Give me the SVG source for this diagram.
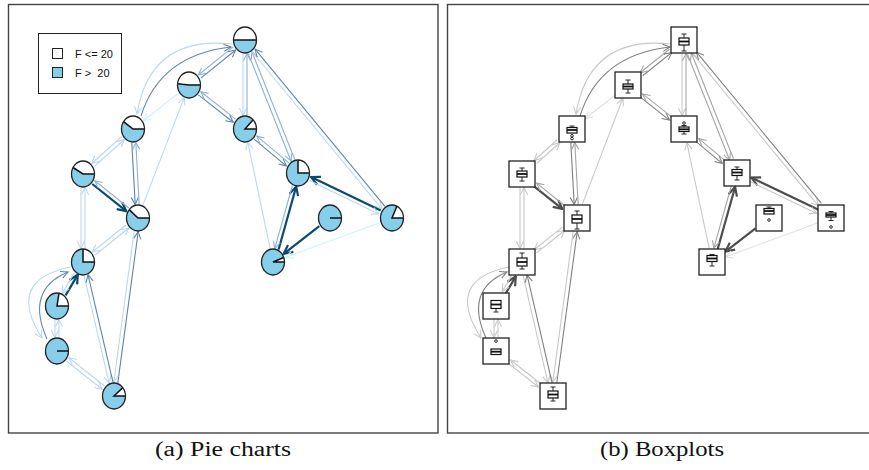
<svg xmlns="http://www.w3.org/2000/svg" width="869" height="470" viewBox="0 0 869 470">
<style>
.frame{fill:none;stroke:#444;stroke-width:1.4}
.cap{font-family:"Liberation Serif",serif;font-size:20px;fill:#111}
.leg{font-family:"Liberation Sans",Arial,sans-serif;font-size:11px;fill:#111;white-space:pre}
.conn line,.conn path{fill:none}
.dk{stroke:#0b4a70;stroke-width:2.2;marker-end:url(#a-dk)}
.st{stroke:#5e86ad;stroke-width:1.1;marker-end:url(#a-st)}
.ls{stroke:#8eb2d4;stroke-width:1.1;marker-end:url(#a-ls)}
.lt{stroke:#bcd8f0;stroke-width:1.1;marker-end:url(#a-lt)}
.cy{stroke:#cdf3fa;stroke-width:1.1;marker-end:url(#a-cy)}
.gdk{stroke:#4d4d4d;stroke-width:2.2;marker-end:url(#a-gdk)}
.gst{stroke:#808080;stroke-width:1.1;marker-end:url(#a-gst)}
.gls{stroke:#a6a6a6;stroke-width:1.1;marker-end:url(#a-gls)}
.glt{stroke:#c8c8c8;stroke-width:1.1;marker-end:url(#a-glt)}
.gcy{stroke:#e0e0e0;stroke-width:1.1;marker-end:url(#a-gcy)}
.pie .b{fill:#87ceeb;stroke:none}
.pie .w{fill:#fff;stroke:none}
.pie .r{fill:none;stroke:#111;stroke-width:1.5}
.pie .o{fill:none;stroke:#222;stroke-width:1.3}
.box .f{fill:#fff;stroke:#222;stroke-width:1.3}
.box .wh{fill:none;stroke:#111;stroke-width:0.9}
.box .bx{fill:#fff;stroke:#111;stroke-width:1.2}
.box .md{fill:none;stroke:#111;stroke-width:1.8}
.box .out{fill:none;stroke:#111;stroke-width:0.9}
</style>
<defs>
<marker id="a-dk" viewBox="0 0 10 10" refX="9" refY="5" markerWidth="11" markerHeight="11" orient="auto" markerUnits="userSpaceOnUse"><path d="M1,1 L9,5 L1,9" fill="none" stroke="#0b4a70" stroke-width="2"/></marker>
<marker id="a-st" viewBox="0 0 10 10" refX="9" refY="5" markerWidth="9" markerHeight="9" orient="auto" markerUnits="userSpaceOnUse"><path d="M1,1 L9,5 L1,9" fill="none" stroke="#5e86ad" stroke-width="1.2"/></marker>
<marker id="a-ls" viewBox="0 0 10 10" refX="9" refY="5" markerWidth="9" markerHeight="9" orient="auto" markerUnits="userSpaceOnUse"><path d="M1,1 L9,5 L1,9" fill="none" stroke="#8eb2d4" stroke-width="1.2"/></marker>
<marker id="a-lt" viewBox="0 0 10 10" refX="9" refY="5" markerWidth="9" markerHeight="9" orient="auto" markerUnits="userSpaceOnUse"><path d="M1,1 L9,5 L1,9" fill="none" stroke="#bcd8f0" stroke-width="1.2"/></marker>
<marker id="a-cy" viewBox="0 0 10 10" refX="9" refY="5" markerWidth="9" markerHeight="9" orient="auto" markerUnits="userSpaceOnUse"><path d="M1,1 L9,5 L1,9" fill="none" stroke="#cdf3fa" stroke-width="1.2"/></marker>
<marker id="a-gdk" viewBox="0 0 10 10" refX="9" refY="5" markerWidth="11" markerHeight="11" orient="auto" markerUnits="userSpaceOnUse"><path d="M1,1 L9,5 L1,9" fill="none" stroke="#4d4d4d" stroke-width="2"/></marker>
<marker id="a-gst" viewBox="0 0 10 10" refX="9" refY="5" markerWidth="9" markerHeight="9" orient="auto" markerUnits="userSpaceOnUse"><path d="M1,1 L9,5 L1,9" fill="none" stroke="#808080" stroke-width="1.2"/></marker>
<marker id="a-gls" viewBox="0 0 10 10" refX="9" refY="5" markerWidth="9" markerHeight="9" orient="auto" markerUnits="userSpaceOnUse"><path d="M1,1 L9,5 L1,9" fill="none" stroke="#a6a6a6" stroke-width="1.2"/></marker>
<marker id="a-glt" viewBox="0 0 10 10" refX="9" refY="5" markerWidth="9" markerHeight="9" orient="auto" markerUnits="userSpaceOnUse"><path d="M1,1 L9,5 L1,9" fill="none" stroke="#c8c8c8" stroke-width="1.2"/></marker>
<marker id="a-gcy" viewBox="0 0 10 10" refX="9" refY="5" markerWidth="9" markerHeight="9" orient="auto" markerUnits="userSpaceOnUse"><path d="M1,1 L9,5 L1,9" fill="none" stroke="#e0e0e0" stroke-width="1.2"/></marker>
</defs>
<rect width="869" height="470" fill="#fff"/>
<rect class="frame" x="8.5" y="4.5" width="429.5" height="428.5"/>
<rect class="frame" x="447.5" y="4.5" width="424" height="428.5"/>

<g id="connectors-pie" class="conn">
<line class="ls" x1="233.2" y1="46.9" x2="198.3" y2="75.0"/>
<line class="st" x1="200.8" y1="78.1" x2="235.7" y2="50.0"/>
<line class="st" x1="198.4" y1="94.9" x2="233.2" y2="122.3"/>
<line class="ls" x1="235.6" y1="119.1" x2="200.8" y2="91.7"/>
<line class="lt" x1="243" y1="53.5" x2="243" y2="115.5"/>
<line class="ls" x1="247" y1="115.5" x2="247" y2="53.5"/>
<line class="ls" x1="248.1" y1="53.3" x2="291.1" y2="161.2"/>
<line class="ls" x1="294.9" y1="159.8" x2="251.9" y2="51.8"/>
<line class="lt" x1="252.1" y1="51.7" x2="381.9" y2="208.9"/>
<line class="st" x1="384.9" y1="206.3" x2="255.1" y2="49.1"/>
<path class="lt" d="M232,44 Q150,35 137,114"/>
<path class="st" d="M141,116 Q160,55 231,47"/>
<line class="cy" x1="178.4" y1="93.3" x2="143.6" y2="120.7"/>
<line class="lt" x1="142.8" y1="205.4" x2="184.2" y2="97.6"/>
<line class="lt" x1="270.2" y1="248.8" x2="247.8" y2="142.2"/>
<line class="st" x1="254.1" y1="139.1" x2="286.3" y2="165.9"/>
<line class="ls" x1="288.9" y1="162.9" x2="256.7" y2="136.1"/>
<line class="dk" x1="278.6" y1="249.5" x2="296.2" y2="186.5"/>
<line class="ls" x1="292.4" y1="185.5" x2="274.8" y2="248.5"/>
<line class="dk" x1="380.7" y1="210.4" x2="311.1" y2="177.0"/>
<line class="lt" x1="309.4" y1="180.6" x2="378.9" y2="214.0"/>
<line class="dk" x1="319.3" y1="226.2" x2="283.7" y2="253.8"/>
<line class="cy" x1="379.3" y1="222.7" x2="285.7" y2="257.3"/>
<line class="st" x1="131.8" y1="142.6" x2="135.2" y2="204.6"/>
<line class="ls" x1="139.2" y1="204.4" x2="135.8" y2="142.4"/>
<line class="lt" x1="121.7" y1="136.5" x2="91.7" y2="163.5"/>
<line class="lt" x1="94.3" y1="166.5" x2="124.3" y2="139.5"/>
<line class="dk" x1="92.3" y1="184.0" x2="126.3" y2="211.2"/>
<line class="ls" x1="128.8" y1="208.0" x2="94.8" y2="180.8"/>
<line class="lt" x1="81" y1="187.5" x2="81" y2="248.5"/>
<line class="lt" x1="85" y1="248.5" x2="85" y2="187.5"/>
<line class="lt" x1="126.3" y1="224.8" x2="92.3" y2="252.0"/>
<line class="lt" x1="94.8" y1="255.2" x2="128.8" y2="228.0"/>
<line class="st" x1="117.8" y1="382.9" x2="138.2" y2="231.7"/>
<line class="lt" x1="134.2" y1="231.1" x2="113.8" y2="382.3"/>
<line class="lt" x1="84.1" y1="275.6" x2="109.1" y2="383.2"/>
<line class="st" x1="113.0" y1="382.4" x2="88.0" y2="274.7"/>
<line class="dk" x1="65.6" y1="295.4" x2="77.8" y2="274.6"/>
<line class="lt" x1="74.4" y1="272.6" x2="62.2" y2="293.4"/>
<line class="lt" x1="55" y1="319.5" x2="55" y2="337.5"/>
<line class="lt" x1="59" y1="337.5" x2="59" y2="319.5"/>
<path class="st" d="M47,339 Q25,290 68,272"/>
<path class="lt" d="M71,267 Q5,280 42,338"/>
<line class="lt" x1="66.4" y1="361.0" x2="102.2" y2="389.2"/>
<line class="lt" x1="104.6" y1="386.0" x2="68.8" y2="357.8"/>
</g>

<g id="connectors-box" class="conn">
<line class="gls" x1="669.3" y1="49.2" x2="640.2" y2="72.7"/>
<line class="gst" x1="642.7" y1="75.8" x2="671.8" y2="52.4"/>
<line class="gst" x1="640.2" y1="97.1" x2="669.4" y2="120.1"/>
<line class="gls" x1="671.8" y1="116.9" x2="642.6" y2="93.9"/>
<line class="glt" x1="682" y1="53.5" x2="682" y2="115.5"/>
<line class="gls" x1="686" y1="115.5" x2="686" y2="53.5"/>
<line class="gls" x1="687.5" y1="54.2" x2="729.7" y2="160.2"/>
<line class="gls" x1="733.5" y1="158.8" x2="691.3" y2="52.8"/>
<line class="glt" x1="693.6" y1="54.7" x2="818.4" y2="205.9"/>
<line class="gst" x1="821.4" y1="203.3" x2="696.6" y2="52.1"/>
<path class="glt" d="M671,44 Q589,35 576,114"/>
<path class="gst" d="M580,116 Q599,55 670,47"/>
<line class="gcy" x1="614.6" y1="95.5" x2="585.4" y2="118.5"/>
<line class="glt" x1="582.2" y1="204.6" x2="622.8" y2="98.4"/>
<line class="glt" x1="709.2" y1="248.5" x2="686.8" y2="142.5"/>
<line class="gst" x1="696.1" y1="141.6" x2="722.3" y2="163.4"/>
<line class="gls" x1="724.9" y1="160.4" x2="698.7" y2="138.6"/>
<line class="gdk" x1="717.7" y1="249.0" x2="735.1" y2="187.0"/>
<line class="gls" x1="731.3" y1="186.0" x2="713.9" y2="248.0"/>
<line class="gdk" x1="818.5" y1="209.8" x2="751.3" y2="177.6"/>
<line class="glt" x1="749.5" y1="181.2" x2="816.7" y2="213.4"/>
<line class="gdk" x1="755.5" y1="228.4" x2="725.5" y2="251.6"/>
<line class="gcy" x1="817.5" y1="223.0" x2="725.5" y2="257.0"/>
<line class="gst" x1="570.8" y1="142.6" x2="574.2" y2="204.6"/>
<line class="gls" x1="578.2" y1="204.4" x2="574.8" y2="142.4"/>
<line class="glt" x1="557.3" y1="139.5" x2="534.1" y2="160.5"/>
<line class="glt" x1="536.7" y1="163.5" x2="559.9" y2="142.5"/>
<line class="gdk" x1="534.1" y1="186.3" x2="562.3" y2="208.9"/>
<line class="gls" x1="564.8" y1="205.7" x2="536.6" y2="183.1"/>
<line class="glt" x1="520" y1="187.5" x2="520" y2="248.5"/>
<line class="glt" x1="524" y1="248.5" x2="524" y2="187.5"/>
<line class="glt" x1="562.4" y1="227.1" x2="534.2" y2="249.7"/>
<line class="glt" x1="536.6" y1="252.9" x2="564.8" y2="230.3"/>
<line class="gst" x1="556.8" y1="382.8" x2="577.2" y2="231.8"/>
<line class="glt" x1="573.2" y1="231.2" x2="552.8" y2="382.2"/>
<line class="glt" x1="523.2" y1="275.8" x2="548.0" y2="383.0"/>
<line class="gst" x1="551.9" y1="382.2" x2="527.1" y2="274.9"/>
<line class="gdk" x1="505.6" y1="293.6" x2="515.8" y2="276.4"/>
<line class="glt" x1="512.4" y1="274.4" x2="502.2" y2="291.6"/>
<line class="glt" x1="494" y1="319.5" x2="494" y2="337.5"/>
<line class="glt" x1="498" y1="337.5" x2="498" y2="319.5"/>
<path class="gst" d="M486,338 Q464,290 507,272"/>
<path class="glt" d="M509,267 Q444,280 481,338"/>
<line class="glt" x1="508.2" y1="363.2" x2="538.4" y2="387.0"/>
<line class="glt" x1="540.8" y1="383.8" x2="510.6" y2="360.0"/>
</g>

<g id="pie-A" class="pie"><ellipse class="b" cx="245" cy="40" rx="11.5" ry="13"/><path class="w" d="M245,40 L256.5,40 A11.5,13 0 0 0 233.5,40 Z"/><path class="r" d="M256.5,40 L245,40 L233.5,40"/><ellipse class="o" cx="245" cy="40" rx="11.5" ry="13"/></g>
<g id="pie-B" class="pie"><ellipse class="b" cx="189" cy="85" rx="11.5" ry="13"/><path class="w" d="M189,85 L200.5,85 A11.5,13 0 0 0 177.54,83.87 Z"/><path class="r" d="M200.5,85 L189,85 L177.54,83.87"/><ellipse class="o" cx="189" cy="85" rx="11.5" ry="13"/></g>
<g id="pie-C" class="pie"><ellipse class="b" cx="133" cy="129" rx="11.5" ry="13"/><path class="w" d="M133,129 L144.5,129 A11.5,13 0 0 0 123.58,121.54 Z"/><path class="r" d="M144.5,129 L133,129 L123.58,121.54"/><ellipse class="o" cx="133" cy="129" rx="11.5" ry="13"/></g>
<g id="pie-D" class="pie"><ellipse class="b" cx="245" cy="129" rx="11.5" ry="13"/><path class="w" d="M245,129 L256.5,129 A11.5,13 0 0 0 253.13,119.81 Z"/><path class="r" d="M256.5,129 L245,129 L253.13,119.81"/><ellipse class="o" cx="245" cy="129" rx="11.5" ry="13"/></g>
<g id="pie-E" class="pie"><ellipse class="b" cx="83" cy="174" rx="11.5" ry="13"/><path class="w" d="M83,174 L94.5,174 A11.5,13 0 0 0 73.04,167.5 Z"/><path class="r" d="M94.5,174 L83,174 L73.04,167.5"/><ellipse class="o" cx="83" cy="174" rx="11.5" ry="13"/></g>
<g id="pie-F" class="pie"><ellipse class="b" cx="298" cy="173" rx="11.5" ry="13"/><path class="w" d="M298,173 L309.5,173 A11.5,13 0 0 0 298,160 Z"/><path class="r" d="M309.5,173 L298,173 L298,160"/><ellipse class="o" cx="298" cy="173" rx="11.5" ry="13"/></g>
<g id="pie-G" class="pie"><ellipse class="b" cx="138" cy="218" rx="11.5" ry="13"/><path class="w" d="M138,218 L149.5,218 A11.5,13 0 0 0 129.19,209.64 Z"/><path class="r" d="M149.5,218 L138,218 L129.19,209.64"/><ellipse class="o" cx="138" cy="218" rx="11.5" ry="13"/></g>
<g id="pie-H" class="pie"><ellipse class="b" cx="330" cy="218" rx="11.5" ry="13"/><path class="r" d="M341.5,218 L330,218"/><ellipse class="o" cx="330" cy="218" rx="11.5" ry="13"/></g>
<g id="pie-I" class="pie"><ellipse class="b" cx="392" cy="218" rx="11.5" ry="13"/><path class="w" d="M392,218 L403.5,218 A11.5,13 0 0 0 396.86,206.22 Z"/><path class="r" d="M403.5,218 L392,218 L396.86,206.22"/><ellipse class="o" cx="392" cy="218" rx="11.5" ry="13"/></g>
<g id="pie-J" class="pie"><ellipse class="b" cx="83" cy="262" rx="11.5" ry="13"/><path class="w" d="M83,262 L94.5,262 A11.5,13 0 0 0 83,249 Z"/><path class="r" d="M94.5,262 L83,262 L83,249"/><ellipse class="o" cx="83" cy="262" rx="11.5" ry="13"/></g>
<g id="pie-K" class="pie"><ellipse class="b" cx="273" cy="262" rx="11.5" ry="13"/><path class="w" d="M273,262 L284.5,262 A11.5,13 0 0 0 283.81,257.55 Z"/><path class="r" d="M284.5,262 L273,262 L283.81,257.55"/><ellipse class="o" cx="273" cy="262" rx="11.5" ry="13"/></g>
<g id="pie-L" class="pie"><ellipse class="b" cx="57" cy="306" rx="11.5" ry="13"/><path class="w" d="M57,306 L68.5,306 A11.5,13 0 0 0 59,293.2 Z"/><path class="r" d="M68.5,306 L57,306 L59,293.2"/><ellipse class="o" cx="57" cy="306" rx="11.5" ry="13"/></g>
<g id="pie-M" class="pie"><ellipse class="b" cx="57" cy="351" rx="11.5" ry="13"/><path class="r" d="M68.5,351 L57,351"/><ellipse class="o" cx="57" cy="351" rx="11.5" ry="13"/></g>
<g id="pie-N" class="pie"><ellipse class="b" cx="114" cy="396" rx="11.5" ry="13"/><path class="w" d="M114,396 L125.5,396 A11.5,13 0 0 0 122.81,387.64 Z"/><path class="r" d="M125.5,396 L114,396 L122.81,387.64"/><ellipse class="o" cx="114" cy="396" rx="11.5" ry="13"/></g>

<g id="box-A" class="box"><rect class="f" x="671" y="27" width="26" height="26"/><path class="wh" d="M681.5,34 H686.5 M684,34 V38 M684,45 V51 M681.5,51 H686.5"/><rect class="bx" x="679" y="38" width="10" height="7"/><path class="md" d="M679,41.5 H689"/></g>
<g id="box-B" class="box"><rect class="f" x="615" y="72" width="26" height="26"/><path class="wh" d="M625.5,80 H630.5 M628,80 V84 M628,89 V93 M625.5,93 H630.5"/><rect class="bx" x="623" y="84" width="10" height="5"/><path class="md" d="M623,86.5 H633"/></g>
<g id="box-C" class="box"><rect class="f" x="559" y="116" width="26" height="26"/><path class="wh" d="M569.5,126 H574.5 M572,126 V127.5"/><rect class="bx" x="567" y="127.5" width="10" height="5.5"/><path class="md" d="M567,130 H577"/><circle class="out" cx="572" cy="135.8" r="1.3"/><circle class="out" cx="572" cy="138.6" r="1.3"/></g>
<g id="box-D" class="box"><rect class="f" x="671" y="116" width="26" height="26"/><circle class="out" cx="684" cy="123" r="1.3"/><path class="wh" d="M681.5,125.5 H686.5 M684,125.5 V127 M684,131.5 V134 M681.5,134 H686.5"/><rect class="bx" x="679" y="127" width="10" height="4.5"/><path class="md" d="M679,129.3 H689"/></g>
<g id="box-E" class="box"><rect class="f" x="509" y="161" width="26" height="26"/><path class="wh" d="M519.5,168 H524.5 M522,168 V171 M522,177 V181 M519.5,181 H524.5"/><rect class="bx" x="517" y="171" width="10" height="6"/><path class="md" d="M517,174 H527"/></g>
<g id="box-F" class="box"><rect class="f" x="724" y="160" width="26" height="26"/><path class="wh" d="M734.5,167 H739.5 M737,167 V169.5 M737,175.5 V180 M734.5,180 H739.5"/><rect class="bx" x="732" y="169.5" width="10" height="6"/><path class="md" d="M732,172.5 H742"/></g>
<g id="box-G" class="box"><rect class="f" x="564" y="205" width="26" height="26"/><path class="wh" d="M574.5,211 H579.5 M577,211 V215 M577,223 V229 M574.5,229 H579.5"/><rect class="bx" x="572" y="215" width="10" height="8"/><path class="md" d="M572,219 H582"/></g>
<g id="box-H" class="box"><rect class="f" x="756" y="205" width="26" height="26"/><path class="wh" d="M766.5,207 H771.5 M769,207 V208.5"/><rect class="bx" x="764" y="208.5" width="10" height="5.5"/><path class="md" d="M764,211 H774"/><circle class="out" cx="769" cy="220" r="1.3"/></g>
<g id="box-I" class="box"><rect class="f" x="818" y="205" width="26" height="26"/><path class="wh" d="M828.5,211.5 H833.5 M831,211.5 V213 M831,217 V220.5 M828.5,220.5 H833.5"/><rect class="bx" x="826" y="213" width="10" height="4"/><path class="md" d="M826,215 H836"/><circle class="out" cx="831" cy="227" r="1.3"/></g>
<g id="box-J" class="box"><rect class="f" x="509" y="249" width="26" height="26"/><path class="wh" d="M519.5,253 H524.5 M522,253 V258 M522,266 V269 M519.5,269 H524.5"/><rect class="bx" x="517" y="258" width="10" height="8"/><path class="md" d="M517,262 H527"/></g>
<g id="box-K" class="box"><rect class="f" x="699" y="249" width="26" height="26"/><path class="wh" d="M709.5,254.5 H714.5 M712,261.5 V266 M709.5,266 H714.5"/><rect class="bx" x="707" y="255.5" width="10" height="6"/><path class="md" d="M707,258.5 H717"/></g>
<g id="box-L" class="box"><rect class="f" x="483" y="293" width="26" height="26"/><rect class="bx" x="491" y="300.5" width="10" height="8"/><path class="md" d="M491,304.5 H501"/><path class="wh" d="M496,308.5 V312 M493.5,312 H498.5"/></g>
<g id="box-M" class="box"><rect class="f" x="483" y="338" width="26" height="26"/><circle class="out" cx="496" cy="341" r="1.3"/><rect class="bx" x="491" y="349" width="10" height="5.5"/><path class="md" d="M491,351.7 H501"/></g>
<g id="box-N" class="box"><rect class="f" x="540" y="383" width="26" height="26"/><path class="wh" d="M550.5,387 H555.5 M553,387 V391 M553,398 V401 M550.5,401 H555.5"/><rect class="bx" x="548" y="391" width="10" height="7"/><path class="md" d="M548,394.5 H558"/></g>

<g id="legend">
<rect x="38.5" y="33.5" width="83" height="60" fill="#fff" stroke="#222" stroke-width="1"/>
<rect x="52.5" y="48.5" width="10" height="10" fill="#fff" stroke="#222" stroke-width="1"/>
<rect x="52.5" y="67.5" width="10" height="10" fill="#87ceeb" stroke="#222" stroke-width="1"/>
<text class="leg" x="75" y="57.5">F &lt;= 20</text>
<text class="leg" x="75" y="76.5">F &gt;  20</text>
</g>

<text class="cap" x="155" y="456" textLength="136" lengthAdjust="spacingAndGlyphs">(a)  Pie charts</text>
<text class="cap" x="600" y="456" textLength="124" lengthAdjust="spacingAndGlyphs">(b)  Boxplots</text>
</svg>
